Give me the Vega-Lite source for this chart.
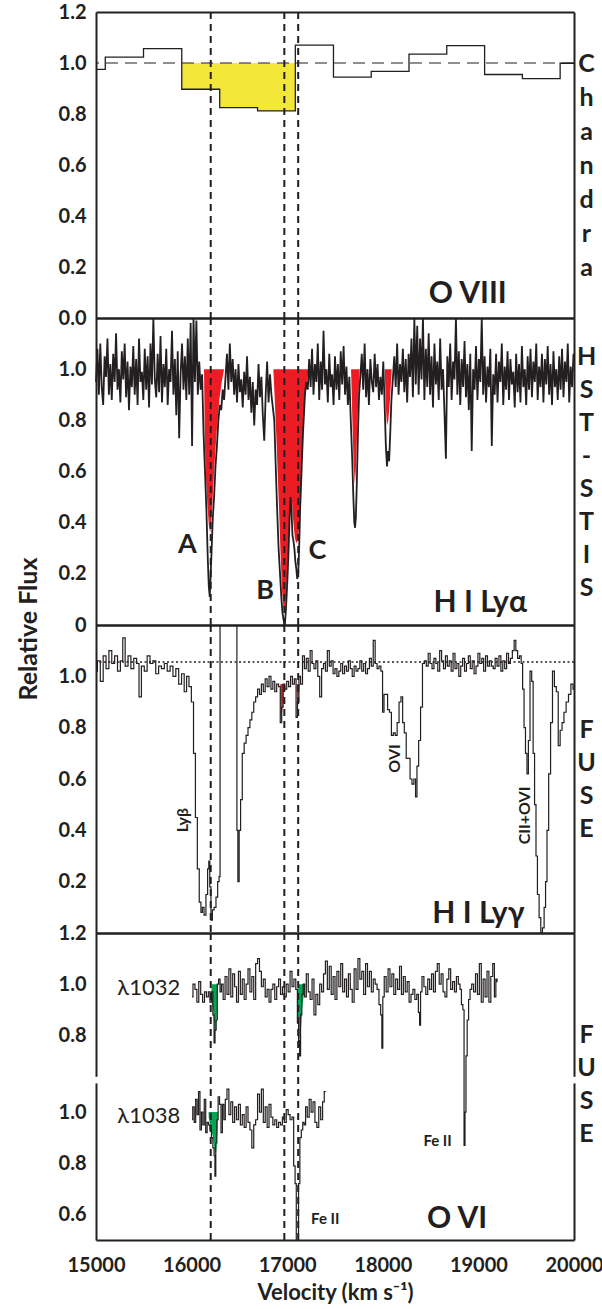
{
"$schema": "https://vega.github.io/schema/vega-lite/v6.json",
"background": "white",
"padding": {"left": 17, "top": 2, "right": 2, "bottom": 2},
"autosize": {"type": "pad"},
"spacing": 0,
"bounds": "flush",
"config": {
  "view": {"stroke": null},
  "font": "Lato",
  "axis": {"grid": false, "domainColor": "#231f20", "domainWidth": 2, "tickColor": "#231f20", "tickWidth": 1.5, "labelFont": "Lato", "labelFontWeight": "bold", "labelFontSize": 20, "labelColor": "#231f20", "titleFont": "Lato", "titleFontWeight": "bold", "titleColor": "#231f20", "labelFlush": false, "labelOverlap": false},
  "text": {"font": "Lato", "color": "#231f20"}
},
"datasets": {
  "vl": [{"v":16200},{"v":16970},{"v":17115}],
  "p1": [{"v":15000,"f":0.975},{"v":15097,"f":1.023},{"v":15497,"f":1.056},{"v":15897,"f":0.897},{"v":16294,"f":0.825},{"v":16690,"f":0.812},{"v":17085,"f":1.07},{"v":17484,"f":0.945},{"v":17879,"f":0.967},{"v":18274,"f":1.035},{"v":18669,"f":1.068},{"v":19065,"f":0.955},{"v":19460,"f":0.939},{"v":19855,"f":0.999},{"v":20000,"f":0.999}],
  "p1fill": [{"v":15897,"f":0.897},{"v":16294,"f":0.825},{"v":16690,"f":0.812},{"v":17085,"f":0.812}],
  "t1": [{"v":18889,"f":0.06,"t":"O VIII"}],
  "p2": [{"v":15000,"f":0.95},{"v":15015,"f":1.08},{"v":15030,"f":0.9},{"v":15045,"f":1.1},{"v":15060,"f":0.93},{"v":15075,"f":0.86},{"v":15090,"f":1.05},{"v":15105,"f":0.97},{"v":15120,"f":1.12},{"v":15135,"f":0.9},{"v":15150,"f":1.02},{"v":15165,"f":0.88},{"v":15180,"f":1.06},{"v":15195,"f":0.95},{"v":15210,"f":1.14},{"v":15225,"f":0.92},{"v":15240,"f":1.0},{"v":15255,"f":0.87},{"v":15270,"f":1.07},{"v":15285,"f":0.96},{"v":15300,"f":1.1},{"v":15315,"f":0.89},{"v":15330,"f":1.03},{"v":15345,"f":0.84},{"v":15360,"f":1.01},{"v":15375,"f":0.93},{"v":15390,"f":1.09},{"v":15405,"f":0.9},{"v":15420,"f":1.04},{"v":15435,"f":0.86},{"v":15450,"f":1.12},{"v":15465,"f":0.95},{"v":15480,"f":0.99},{"v":15495,"f":0.88},{"v":15510,"f":1.08},{"v":15525,"f":0.92},{"v":15540,"f":1.05},{"v":15555,"f":0.85},{"v":15570,"f":1.1},{"v":15585,"f":0.94},{"v":15600,"f":1.2},{"v":15615,"f":0.96},{"v":15630,"f":0.89},{"v":15645,"f":1.06},{"v":15660,"f":0.91},{"v":15675,"f":1.13},{"v":15690,"f":0.87},{"v":15705,"f":1.02},{"v":15720,"f":0.93},{"v":15735,"f":1.08},{"v":15750,"f":0.86},{"v":15765,"f":1.0},{"v":15780,"f":0.95},{"v":15795,"f":1.15},{"v":15810,"f":0.9},{"v":15825,"f":1.04},{"v":15840,"f":0.82},{"v":15855,"f":1.07},{"v":15870,"f":0.73},{"v":15885,"f":0.98},{"v":15900,"f":1.1},{"v":15915,"f":0.92},{"v":15930,"f":1.05},{"v":15945,"f":0.88},{"v":15960,"f":1.12},{"v":15975,"f":0.9},{"v":15990,"f":1.18},{"v":16005,"f":0.7},{"v":16020,"f":1.2},{"v":16035,"f":0.95},{"v":16050,"f":1.19},{"v":16065,"f":0.9},{"v":16080,"f":1.03},{"v":16095,"f":0.92},{"v":16110,"f":0.98},{"v":16125,"f":0.75},{"v":16140,"f":0.6},{"v":16155,"f":0.45},{"v":16170,"f":0.25},{"v":16180,"f":0.15},{"v":16190,"f":0.11},{"v":16200,"f":0.2},{"v":16210,"f":0.3},{"v":16222,"f":0.42},{"v":16235,"f":0.5},{"v":16250,"f":0.62},{"v":16265,"f":0.7},{"v":16280,"f":0.8},{"v":16295,"f":0.86},{"v":16310,"f":0.84},{"v":16325,"f":0.92},{"v":16340,"f":0.88},{"v":16355,"f":0.97},{"v":16370,"f":1.06},{"v":16385,"f":0.92},{"v":16400,"f":1.1},{"v":16415,"f":0.95},{"v":16430,"f":1.04},{"v":16445,"f":0.9},{"v":16460,"f":1.0},{"v":16475,"f":0.87},{"v":16490,"f":1.02},{"v":16505,"f":0.91},{"v":16520,"f":0.96},{"v":16535,"f":0.85},{"v":16550,"f":0.99},{"v":16565,"f":0.9},{"v":16580,"f":1.05},{"v":16595,"f":0.88},{"v":16610,"f":0.97},{"v":16625,"f":0.83},{"v":16640,"f":0.95},{"v":16655,"f":0.78},{"v":16670,"f":0.92},{"v":16685,"f":0.86},{"v":16700,"f":1.02},{"v":16715,"f":0.89},{"v":16730,"f":0.97},{"v":16745,"f":0.82},{"v":16760,"f":0.72},{"v":16775,"f":0.9},{"v":16790,"f":1.03},{"v":16805,"f":0.87},{"v":16820,"f":0.98},{"v":16835,"f":0.9},{"v":16850,"f":0.85},{"v":16865,"f":0.8},{"v":16880,"f":0.62},{"v":16895,"f":0.45},{"v":16910,"f":0.3},{"v":16925,"f":0.2},{"v":16940,"f":0.1},{"v":16950,"f":0.05},{"v":16962,"f":0.02},{"v":16975,"f":0.0},{"v":16985,"f":0.05},{"v":16995,"f":0.12},{"v":17005,"f":0.2},{"v":17015,"f":0.3},{"v":17025,"f":0.42},{"v":17035,"f":0.5},{"v":17045,"f":0.45},{"v":17055,"f":0.35},{"v":17065,"f":0.33},{"v":17075,"f":0.3},{"v":17085,"f":0.25},{"v":17095,"f":0.22},{"v":17105,"f":0.18},{"v":17115,"f":0.2},{"v":17125,"f":0.3},{"v":17135,"f":0.45},{"v":17145,"f":0.55},{"v":17155,"f":0.65},{"v":17165,"f":0.75},{"v":17175,"f":0.82},{"v":17185,"f":0.9},{"v":17200,"f":0.95},{"v":17215,"f":0.92},{"v":17230,"f":1.04},{"v":17245,"f":0.93},{"v":17260,"f":1.08},{"v":17275,"f":0.9},{"v":17290,"f":1.02},{"v":17305,"f":0.95},{"v":17320,"f":1.1},{"v":17335,"f":0.88},{"v":17350,"f":1.03},{"v":17365,"f":0.92},{"v":17380,"f":1.15},{"v":17395,"f":0.94},{"v":17410,"f":1.0},{"v":17425,"f":0.87},{"v":17440,"f":1.06},{"v":17455,"f":0.93},{"v":17470,"f":0.98},{"v":17485,"f":0.86},{"v":17500,"f":1.05},{"v":17515,"f":0.92},{"v":17530,"f":1.02},{"v":17545,"f":0.88},{"v":17560,"f":1.07},{"v":17575,"f":0.94},{"v":17590,"f":1.09},{"v":17605,"f":0.9},{"v":17620,"f":1.01},{"v":17635,"f":0.86},{"v":17650,"f":0.97},{"v":17665,"f":0.8},{"v":17680,"f":0.65},{"v":17692,"f":0.5},{"v":17702,"f":0.4},{"v":17710,"f":0.38},{"v":17718,"f":0.42},{"v":17728,"f":0.55},{"v":17740,"f":0.75},{"v":17752,"f":0.9},{"v":17765,"f":0.97},{"v":17780,"f":1.06},{"v":17795,"f":0.92},{"v":17810,"f":1.1},{"v":17825,"f":0.89},{"v":17840,"f":1.0},{"v":17855,"f":0.86},{"v":17870,"f":1.04},{"v":17885,"f":0.95},{"v":17900,"f":0.91},{"v":17915,"f":1.06},{"v":17930,"f":0.93},{"v":17945,"f":1.02},{"v":17960,"f":0.88},{"v":17975,"f":0.97},{"v":17990,"f":0.9},{"v":18005,"f":1.03},{"v":18020,"f":0.85},{"v":18032,"f":0.7},{"v":18044,"f":0.62},{"v":18055,"f":0.68},{"v":18066,"f":0.64},{"v":18078,"f":0.75},{"v":18090,"f":0.88},{"v":18105,"f":0.96},{"v":18120,"f":1.05},{"v":18135,"f":0.93},{"v":18150,"f":1.1},{"v":18165,"f":0.9},{"v":18180,"f":1.02},{"v":18195,"f":0.95},{"v":18210,"f":1.08},{"v":18225,"f":0.91},{"v":18240,"f":1.04},{"v":18255,"f":0.87},{"v":18270,"f":1.06},{"v":18285,"f":0.97},{"v":18300,"f":1.12},{"v":18315,"f":0.89},{"v":18330,"f":1.2},{"v":18345,"f":0.94},{"v":18360,"f":1.17},{"v":18375,"f":0.9},{"v":18390,"f":1.12},{"v":18405,"f":0.96},{"v":18420,"f":1.2},{"v":18435,"f":0.88},{"v":18450,"f":1.08},{"v":18465,"f":0.93},{"v":18480,"f":1.14},{"v":18495,"f":0.9},{"v":18510,"f":1.05},{"v":18525,"f":0.85},{"v":18540,"f":1.1},{"v":18555,"f":0.94},{"v":18570,"f":1.03},{"v":18585,"f":0.88},{"v":18600,"f":1.12},{"v":18615,"f":0.92},{"v":18630,"f":1.0},{"v":18645,"f":0.83},{"v":18660,"f":0.65},{"v":18675,"f":1.05},{"v":18690,"f":0.93},{"v":18705,"f":1.1},{"v":18720,"f":0.88},{"v":18735,"f":1.03},{"v":18750,"f":0.96},{"v":18765,"f":1.2},{"v":18780,"f":0.9},{"v":18795,"f":1.07},{"v":18810,"f":0.86},{"v":18825,"f":1.04},{"v":18840,"f":0.93},{"v":18855,"f":1.11},{"v":18870,"f":0.89},{"v":18885,"f":1.02},{"v":18900,"f":0.84},{"v":18915,"f":1.06},{"v":18930,"f":0.68},{"v":18945,"f":1.0},{"v":18960,"f":0.92},{"v":18975,"f":1.09},{"v":18990,"f":0.88},{"v":19005,"f":1.04},{"v":19020,"f":0.95},{"v":19035,"f":1.2},{"v":19050,"f":0.9},{"v":19065,"f":1.05},{"v":19080,"f":0.87},{"v":19095,"f":1.01},{"v":19110,"f":0.93},{"v":19125,"f":1.08},{"v":19140,"f":0.7},{"v":19155,"f":0.98},{"v":19170,"f":0.9},{"v":19185,"f":1.06},{"v":19200,"f":0.87},{"v":19215,"f":1.03},{"v":19230,"f":0.95},{"v":19245,"f":1.1},{"v":19260,"f":0.86},{"v":19275,"f":1.01},{"v":19290,"f":0.92},{"v":19305,"f":1.07},{"v":19320,"f":0.88},{"v":19335,"f":1.04},{"v":19350,"f":0.94},{"v":19365,"f":0.99},{"v":19380,"f":0.85},{"v":19395,"f":1.06},{"v":19410,"f":0.91},{"v":19425,"f":1.02},{"v":19440,"f":0.87},{"v":19455,"f":1.09},{"v":19470,"f":0.93},{"v":19485,"f":1.0},{"v":19500,"f":0.86},{"v":19515,"f":1.05},{"v":19530,"f":0.92},{"v":19545,"f":1.08},{"v":19560,"f":0.89},{"v":19575,"f":1.03},{"v":19590,"f":0.95},{"v":19605,"f":1.1},{"v":19620,"f":0.88},{"v":19635,"f":1.01},{"v":19650,"f":0.93},{"v":19665,"f":1.06},{"v":19680,"f":0.87},{"v":19695,"f":1.04},{"v":19710,"f":0.94},{"v":19725,"f":1.09},{"v":19740,"f":0.9},{"v":19755,"f":1.02},{"v":19770,"f":0.86},{"v":19785,"f":1.07},{"v":19800,"f":0.93},{"v":19815,"f":1.0},{"v":19830,"f":0.88},{"v":19845,"f":1.05},{"v":19860,"f":0.92},{"v":19875,"f":1.08},{"v":19890,"f":0.89},{"v":19905,"f":1.03},{"v":19920,"f":0.95},{"v":19935,"f":1.1},{"v":19950,"f":0.87},{"v":19965,"f":1.01},{"v":19980,"f":0.93},{"v":19995,"f":1.06}],
  "fit2": [{"c":"a","v":16130,"f":1.0},{"c":"a","v":16138,"f":0.72},{"c":"a","v":16150,"f":0.58},{"c":"a","v":16165,"f":0.47},{"c":"a","v":16180,"f":0.39},{"c":"a","v":16195,"f":0.36},{"c":"a","v":16210,"f":0.42},{"c":"a","v":16225,"f":0.53},{"c":"a","v":16245,"f":0.66},{"c":"a","v":16265,"f":0.77},{"c":"a","v":16290,"f":0.88},{"c":"a","v":16315,"f":0.95},{"c":"a","v":16340,"f":1.0},
    {"c":"b","v":16855,"f":1.0},{"c":"b","v":16870,"f":0.88},{"c":"b","v":16885,"f":0.75},{"c":"b","v":16900,"f":0.6},{"c":"b","v":16915,"f":0.45},{"c":"b","v":16930,"f":0.28},{"c":"b","v":16945,"f":0.14},{"c":"b","v":16960,"f":0.07},{"c":"b","v":16975,"f":0.06},{"c":"b","v":16990,"f":0.12},{"c":"b","v":17005,"f":0.25},{"c":"b","v":17020,"f":0.38},{"c":"b","v":17035,"f":0.47},{"c":"b","v":17050,"f":0.48},{"c":"b","v":17065,"f":0.4},{"c":"b","v":17080,"f":0.34},{"c":"b","v":17095,"f":0.32},{"c":"b","v":17110,"f":0.33},{"c":"b","v":17125,"f":0.38},{"c":"b","v":17140,"f":0.5},{"c":"b","v":17160,"f":0.68},{"c":"b","v":17180,"f":0.84},{"c":"b","v":17200,"f":0.94},{"c":"b","v":17226,"f":1.0},
    {"c":"c","v":17668,"f":1.0},{"c":"c","v":17682,"f":0.8},{"c":"c","v":17695,"f":0.62},{"c":"c","v":17708,"f":0.55},{"c":"c","v":17720,"f":0.62},{"c":"c","v":17735,"f":0.8},{"c":"c","v":17758,"f":1.0},
    {"c":"d","v":18020,"f":1.0},{"c":"d","v":18032,"f":0.85},{"c":"d","v":18044,"f":0.78},{"c":"d","v":18058,"f":0.8},{"c":"d","v":18075,"f":0.88},{"c":"d","v":18093,"f":1.0}],
  "t2abc": [{"v":15955,"f":0.283,"t":"A"},{"v":16770,"f":0.1,"t":"B"},{"v":17316,"f":0.257,"t":"C"}],
  "t2": [{"v":19020,"f":0.05,"t":"H I Lyα"}],
  "p3": [{"v":15000,"f":1.02},{"v":15030,"f":1.06},{"v":15060,"f":0.98},{"v":15090,"f":1.08},{"v":15120,"f":1.03},{"v":15150,"f":1.1},{"v":15180,"f":1.05},{"v":15210,"f":1.08},{"v":15240,"f":1.02},{"v":15270,"f":1.06},{"v":15290,"f":1.15},{"v":15320,"f":1.04},{"v":15350,"f":1.08},{"v":15380,"f":1.03},{"v":15410,"f":1.07},{"v":15440,"f":1.05},{"v":15460,"f":0.92},{"v":15490,"f":1.04},{"v":15520,"f":1.02},{"v":15550,"f":1.08},{"v":15580,"f":1.05},{"v":15610,"f":1.06},{"v":15640,"f":1.01},{"v":15670,"f":1.04},{"v":15700,"f":1.03},{"v":15730,"f":1.05},{"v":15760,"f":1.02},{"v":15790,"f":1.04},{"v":15820,"f":1.0},{"v":15850,"f":1.03},{"v":15880,"f":0.97},{"v":15910,"f":1.01},{"v":15935,"f":0.94},{"v":15960,"f":1.0},{"v":15985,"f":0.96},{"v":16010,"f":0.9},{"v":16030,"f":0.7},{"v":16050,"f":0.45},{"v":16070,"f":0.25},{"v":16090,"f":0.12},{"v":16105,"f":0.08},{"v":16120,"f":0.1},{"v":16140,"f":0.07},{"v":16160,"f":0.15},{"v":16175,"f":0.25},{"v":16185,"f":0.28},{"v":16195,"f":0.18},{"v":16210,"f":0.05},{"v":16225,"f":0.09},{"v":16245,"f":0.1},{"v":16265,"f":0.14},{"v":16280,"f":0.2},{"v":16295,"f":0.22},{"v":16300,"f":1.5},{"v":16470,"f":1.5},{"v":16478,"f":0.4},{"v":16490,"f":0.2},{"v":16505,"f":0.4},{"v":16520,"f":0.52},{"v":16540,"f":0.7},{"v":16560,"f":0.74},{"v":16580,"f":0.77},{"v":16600,"f":0.8},{"v":16620,"f":0.83},{"v":16640,"f":0.86},{"v":16660,"f":0.9},{"v":16680,"f":0.92},{"v":16700,"f":0.95},{"v":16720,"f":0.93},{"v":16740,"f":0.97},{"v":16760,"f":0.94},{"v":16780,"f":0.99},{"v":16800,"f":0.96},{"v":16820,"f":1.0},{"v":16840,"f":0.95},{"v":16860,"f":0.98},{"v":16880,"f":0.94},{"v":16900,"f":0.97},{"v":16920,"f":0.96},{"v":16935,"f":0.82},{"v":16950,"f":0.88},{"v":16965,"f":0.97},{"v":16985,"f":0.95},{"v":17005,"f":0.98},{"v":17025,"f":0.96},{"v":17045,"f":1.0},{"v":17065,"f":0.97},{"v":17085,"f":0.99},{"v":17100,"f":0.84},{"v":17115,"f":0.9},{"v":17130,"f":1.0},{"v":17150,"f":0.97},{"v":17170,"f":1.08},{"v":17190,"f":1.03},{"v":17210,"f":1.07},{"v":17230,"f":1.02},{"v":17250,"f":1.1},{"v":17270,"f":1.05},{"v":17290,"f":1.03},{"v":17310,"f":1.06},{"v":17330,"f":1.0},{"v":17350,"f":0.92},{"v":17370,"f":1.03},{"v":17390,"f":1.05},{"v":17410,"f":1.02},{"v":17430,"f":1.1},{"v":17450,"f":1.04},{"v":17470,"f":1.06},{"v":17490,"f":1.01},{"v":17510,"f":1.03},{"v":17530,"f":1.0},{"v":17550,"f":1.02},{"v":17570,"f":1.05},{"v":17590,"f":1.01},{"v":17610,"f":1.04},{"v":17630,"f":1.02},{"v":17650,"f":1.06},{"v":17670,"f":1.03},{"v":17690,"f":1.0},{"v":17710,"f":1.04},{"v":17730,"f":1.02},{"v":17750,"f":1.03},{"v":17770,"f":1.06},{"v":17790,"f":1.02},{"v":17810,"f":1.05},{"v":17830,"f":1.01},{"v":17850,"f":1.03},{"v":17870,"f":1.07},{"v":17890,"f":1.04},{"v":17910,"f":1.14},{"v":17930,"f":1.05},{"v":17950,"f":1.03},{"v":17970,"f":1.04},{"v":17990,"f":1.02},{"v":18005,"f":0.86},{"v":18020,"f":0.93},{"v":18040,"f":0.93},{"v":18060,"f":0.87},{"v":18080,"f":0.86},{"v":18100,"f":0.77},{"v":18120,"f":0.78},{"v":18140,"f":0.77},{"v":18160,"f":0.82},{"v":18180,"f":0.9},{"v":18200,"f":0.92},{"v":18215,"f":0.82},{"v":18235,"f":0.78},{"v":18255,"f":0.68},{"v":18275,"f":0.68},{"v":18295,"f":0.6},{"v":18315,"f":0.58},{"v":18335,"f":0.6},{"v":18350,"f":0.53},{"v":18365,"f":0.65},{"v":18385,"f":0.75},{"v":18405,"f":0.88},{"v":18425,"f":1.05},{"v":18445,"f":1.06},{"v":18465,"f":1.04},{"v":18485,"f":1.09},{"v":18505,"f":1.05},{"v":18525,"f":1.03},{"v":18545,"f":1.07},{"v":18565,"f":1.05},{"v":18585,"f":1.02},{"v":18605,"f":1.1},{"v":18625,"f":1.06},{"v":18645,"f":1.03},{"v":18665,"f":1.08},{"v":18685,"f":1.04},{"v":18705,"f":1.06},{"v":18725,"f":1.02},{"v":18745,"f":1.09},{"v":18765,"f":1.03},{"v":18785,"f":1.05},{"v":18805,"f":1.0},{"v":18825,"f":1.04},{"v":18845,"f":1.07},{"v":18865,"f":1.02},{"v":18885,"f":1.05},{"v":18905,"f":1.08},{"v":18925,"f":1.03},{"v":18945,"f":1.06},{"v":18965,"f":1.01},{"v":18985,"f":1.04},{"v":19005,"f":1.09},{"v":19025,"f":1.05},{"v":19045,"f":1.07},{"v":19065,"f":1.02},{"v":19085,"f":1.08},{"v":19105,"f":1.04},{"v":19125,"f":1.06},{"v":19145,"f":1.04},{"v":19165,"f":1.03},{"v":19185,"f":1.07},{"v":19205,"f":1.04},{"v":19225,"f":1.08},{"v":19245,"f":1.02},{"v":19265,"f":1.06},{"v":19285,"f":1.03},{"v":19305,"f":1.09},{"v":19325,"f":1.05},{"v":19345,"f":1.07},{"v":19365,"f":1.1},{"v":19383,"f":1.14},{"v":19400,"f":1.1},{"v":19420,"f":1.07},{"v":19440,"f":1.08},{"v":19455,"f":1.05},{"v":19470,"f":0.95},{"v":19485,"f":0.8},{"v":19500,"f":0.7},{"v":19516,"f":0.62},{"v":19530,"f":0.75},{"v":19550,"f":1.02},{"v":19565,"f":0.98},{"v":19580,"f":0.7},{"v":19595,"f":0.5},{"v":19610,"f":0.3},{"v":19625,"f":0.15},{"v":19645,"f":0.06},{"v":19660,"f":0.0},{"v":19680,"f":0.02},{"v":19695,"f":0.1},{"v":19710,"f":0.2},{"v":19725,"f":0.4},{"v":19745,"f":0.62},{"v":19765,"f":0.82},{"v":19785,"f":1.02},{"v":19805,"f":0.96},{"v":19825,"f":0.94},{"v":19845,"f":0.73},{"v":19865,"f":0.79},{"v":19885,"f":0.82},{"v":19905,"f":0.86},{"v":19930,"f":0.9},{"v":19955,"f":0.93},{"v":19980,"f":0.97},{"v":20000,"f":0.95}],
  "fit3": [{"c":"a","v":16928,"f":0.96},{"c":"a","v":16935,"f":0.83},{"c":"a","v":16950,"f":0.87},{"c":"a","v":16964,"f":0.96},{"c":"b","v":17097,"f":0.97},{"c":"b","v":17103,"f":0.86},{"c":"b","v":17115,"f":0.89},{"c":"b","v":17129,"f":0.97}],
  "t3rot": [{"v":15905,"f":0.44,"t":"Lyβ"},{"v":18130,"f":0.68,"t":"OVI"},{"v":19484,"f":0.458,"t":"CII+OVI"}],
  "t3": [{"v":19000,"f":0.04,"t":"H I Lyγ"}],
  "p4a": [{"v":16004,"f":0.95},{"v":16025,"f":1.0},{"v":16045,"f":0.98},{"v":16065,"f":0.93},{"v":16085,"f":1.01},{"v":16105,"f":0.96},{"v":16125,"f":0.93},{"v":16145,"f":0.97},{"v":16165,"f":0.95},{"v":16185,"f":0.97},{"v":16200,"f":0.93},{"v":16215,"f":0.97},{"v":16230,"f":0.88},{"v":16240,"f":0.77},{"v":16250,"f":0.82},{"v":16262,"f":0.86},{"v":16275,"f":1.0},{"v":16290,"f":1.02},{"v":16305,"f":0.97},{"v":16320,"f":1.0},{"v":16340,"f":0.94},{"v":16360,"f":1.03},{"v":16380,"f":0.96},{"v":16400,"f":1.06},{"v":16420,"f":0.95},{"v":16440,"f":1.04},{"v":16460,"f":0.99},{"v":16480,"f":0.93},{"v":16500,"f":1.05},{"v":16520,"f":0.96},{"v":16540,"f":1.02},{"v":16560,"f":0.94},{"v":16580,"f":1.0},{"v":16600,"f":1.06},{"v":16620,"f":0.97},{"v":16640,"f":1.03},{"v":16660,"f":0.94},{"v":16680,"f":1.08},{"v":16700,"f":1.1},{"v":16720,"f":1.05},{"v":16740,"f":0.99},{"v":16760,"f":1.02},{"v":16780,"f":0.95},{"v":16800,"f":0.98},{"v":16820,"f":0.93},{"v":16840,"f":0.98},{"v":16860,"f":1.0},{"v":16880,"f":0.94},{"v":16900,"f":0.99},{"v":16920,"f":1.02},{"v":16940,"f":0.96},{"v":16960,"f":0.99},{"v":16980,"f":0.95},{"v":17000,"f":1.0},{"v":17020,"f":0.97},{"v":17040,"f":1.05},{"v":17060,"f":0.99},{"v":17080,"f":1.02},{"v":17100,"f":0.98},{"v":17113,"f":0.85},{"v":17125,"f":0.78},{"v":17135,"f":0.72},{"v":17145,"f":0.88},{"v":17160,"f":0.96},{"v":17175,"f":1.0},{"v":17190,"f":0.95},{"v":17210,"f":1.04},{"v":17230,"f":0.97},{"v":17250,"f":0.94},{"v":17270,"f":1.02},{"v":17290,"f":0.88},{"v":17310,"f":0.96},{"v":17330,"f":0.92},{"v":17350,"f":1.0},{"v":17370,"f":0.97},{"v":17390,"f":1.04},{"v":17410,"f":1.09},{"v":17430,"f":0.98},{"v":17450,"f":1.07},{"v":17470,"f":0.96},{"v":17490,"f":1.03},{"v":17510,"f":0.94},{"v":17530,"f":1.05},{"v":17550,"f":0.99},{"v":17570,"f":1.08},{"v":17590,"f":0.97},{"v":17610,"f":1.02},{"v":17630,"f":0.95},{"v":17650,"f":1.04},{"v":17670,"f":0.98},{"v":17690,"f":0.93},{"v":17710,"f":1.06},{"v":17730,"f":0.98},{"v":17750,"f":1.1},{"v":17770,"f":1.02},{"v":17790,"f":1.05},{"v":17810,"f":0.96},{"v":17830,"f":1.08},{"v":17850,"f":0.99},{"v":17870,"f":1.05},{"v":17890,"f":0.97},{"v":17910,"f":1.02},{"v":17930,"f":1.0},{"v":17950,"f":0.98},{"v":17970,"f":0.92},{"v":17985,"f":0.88},{"v":17995,"f":0.75},{"v":18005,"f":0.95},{"v":18025,"f":1.03},{"v":18045,"f":0.97},{"v":18065,"f":1.06},{"v":18085,"f":0.99},{"v":18105,"f":1.04},{"v":18125,"f":0.96},{"v":18145,"f":1.02},{"v":18165,"f":0.98},{"v":18185,"f":1.07},{"v":18205,"f":0.96},{"v":18225,"f":1.03},{"v":18245,"f":0.97},{"v":18265,"f":1.01},{"v":18285,"f":0.93},{"v":18305,"f":0.96},{"v":18325,"f":0.98},{"v":18345,"f":0.94},{"v":18365,"f":0.96},{"v":18380,"f":0.89},{"v":18390,"f":0.84},{"v":18400,"f":0.97},{"v":18420,"f":1.03},{"v":18440,"f":0.99},{"v":18460,"f":0.96},{"v":18480,"f":1.02},{"v":18500,"f":0.98},{"v":18520,"f":1.04},{"v":18540,"f":0.97},{"v":18560,"f":1.05},{"v":18580,"f":1.08},{"v":18600,"f":1.0},{"v":18620,"f":1.04},{"v":18640,"f":0.97},{"v":18660,"f":0.95},{"v":18680,"f":1.02},{"v":18700,"f":1.06},{"v":18720,"f":0.98},{"v":18740,"f":1.01},{"v":18760,"f":0.97},{"v":18780,"f":1.03},{"v":18800,"f":1.0},{"v":18815,"f":0.98},{"v":18830,"f":0.92},{"v":18845,"f":0.9},{"v":18855,"f":0.37},{"v":18865,"f":0.5},{"v":18875,"f":0.72},{"v":18890,"f":0.86},{"v":18905,"f":0.94},{"v":18920,"f":0.98},{"v":18940,"f":1.0},{"v":18960,"f":0.97},{"v":18980,"f":1.04},{"v":19000,"f":0.96},{"v":19020,"f":1.08},{"v":19040,"f":0.93},{"v":19060,"f":1.02},{"v":19080,"f":0.95},{"v":19100,"f":1.05},{"v":19120,"f":0.93},{"v":19140,"f":1.03},{"v":19160,"f":1.08},{"v":19175,"f":0.95},{"v":19190,"f":1.02},{"v":19200,"f":1.01}],
  "p4b": [{"v":16004,"f":0.97},{"v":16020,"f":1.02},{"v":16035,"f":0.96},{"v":16050,"f":1.05},{"v":16065,"f":0.99},{"v":16080,"f":1.08},{"v":16095,"f":0.93},{"v":16110,"f":1.0},{"v":16125,"f":0.95},{"v":16140,"f":1.05},{"v":16155,"f":0.92},{"v":16170,"f":0.96},{"v":16185,"f":0.95},{"v":16200,"f":0.93},{"v":16215,"f":0.9},{"v":16230,"f":0.86},{"v":16240,"f":0.83},{"v":16248,"f":0.75},{"v":16258,"f":0.88},{"v":16270,"f":0.97},{"v":16285,"f":1.06},{"v":16300,"f":1.03},{"v":16315,"f":0.92},{"v":16330,"f":1.03},{"v":16345,"f":0.97},{"v":16360,"f":1.05},{"v":16380,"f":1.09},{"v":16400,"f":0.99},{"v":16420,"f":1.04},{"v":16440,"f":0.96},{"v":16460,"f":1.02},{"v":16480,"f":0.97},{"v":16500,"f":1.03},{"v":16520,"f":0.95},{"v":16540,"f":0.99},{"v":16560,"f":0.94},{"v":16580,"f":1.02},{"v":16600,"f":0.96},{"v":16620,"f":0.93},{"v":16640,"f":0.86},{"v":16660,"f":0.95},{"v":16680,"f":0.97},{"v":16700,"f":1.07},{"v":16720,"f":1.0},{"v":16740,"f":1.09},{"v":16760,"f":0.96},{"v":16780,"f":1.02},{"v":16800,"f":0.94},{"v":16820,"f":1.03},{"v":16840,"f":0.98},{"v":16860,"f":0.95},{"v":16880,"f":0.97},{"v":16900,"f":0.94},{"v":16920,"f":0.96},{"v":16940,"f":0.95},{"v":16960,"f":0.98},{"v":16980,"f":0.96},{"v":17000,"f":1.01},{"v":17020,"f":0.99},{"v":17040,"f":0.97},{"v":17060,"f":0.98},{"v":17075,"f":0.79},{"v":17090,"f":0.72},{"v":17100,"f":0.4},{"v":17112,"f":0.45},{"v":17125,"f":0.72},{"v":17140,"f":0.9},{"v":17155,"f":0.93},{"v":17170,"f":0.96},{"v":17185,"f":0.95},{"v":17200,"f":1.02},{"v":17220,"f":0.98},{"v":17240,"f":1.05},{"v":17260,"f":1.0},{"v":17280,"f":1.04},{"v":17300,"f":0.96},{"v":17320,"f":0.94},{"v":17340,"f":1.02},{"v":17360,"f":0.97},{"v":17380,"f":1.04},{"v":17395,"f":1.08},{"v":17403,"f":1.08}],
  "g4a": [{"c":"a","v":16208,"f":0.93},{"c":"a","v":16225,"f":0.9},{"c":"a","v":16240,"f":0.82},{"c":"a","v":16258,"f":0.82},{"c":"a","v":16270,"f":0.95},{"c":"a","v":16278,"f":1.0},{"c":"b","v":17113,"f":0.85},{"c":"b","v":17125,"f":0.78},{"c":"b","v":17140,"f":0.8},{"c":"b","v":17160,"f":0.92},{"c":"b","v":17190,"f":1.0}],
  "g4b": [{"c":"a","v":16178,"f":0.98},{"c":"a","v":16200,"f":0.94},{"c":"a","v":16225,"f":0.9},{"c":"a","v":16245,"f":0.83},{"c":"a","v":16258,"f":0.85},{"c":"a","v":16270,"f":0.92},{"c":"a","v":16278,"f":1.0}],
  "gap": [{"v":15000},{"v":20000}],
  "t4a": [{"v":15552,"f":0.985,"t":"λ1032"}],
  "t4b": [{"v":15552,"f":0.985,"t":"λ1038"}],
  "t4fe": [{"v":18573,"f":0.886,"t":"Fe II"},{"v":17398,"f":0.583,"t":"Fe II"}],
  "t4o": [{"v":18778,"f":0.548,"t":"O VI"}]
},
"vconcat": [
 {
  "width": 478, "height": 306,
  "layer": [
   {"data": {"name": "p1fill"}, "mark": {"type": "area", "interpolate": "step-after", "color": "#f3e83a", "opacity": 1},
    "encoding": {
     "x": {"field": "v", "type": "quantitative", "scale": {"domain": [15000, 20000], "nice": false, "zero": false},
       "axis": {"orient": "bottom", "values": [15000,15100,15200,15300,15400,15500,15600,15700,15800,15900,16000,16100,16200,16300,16400,16500,16600,16700,16800,16900,17000,17100,17200,17300,17400,17500,17600,17700,17800,17900,18000,18100,18200,18300,18400,18500,18600,18700,18800,18900,19000,19100,19200,19300,19400,19500,19600,19700,19800,19900,20000], "labels": false, "tickSize": 0, "title": null, "encode": {"ticks": {"y2": {"value": {"expr": "datum.value % 1000 === 0 ? -9 : -4"}}}}}},
     "y": {"field": "f", "type": "quantitative", "scale": {"domain": [0, 1.2], "nice": false, "zero": false},
       "axis": {"orient": "left", "values": [0,0.05,0.1,0.15,0.2,0.25,0.3,0.35,0.4,0.45,0.5,0.55,0.6,0.65,0.7,0.75,0.8,0.85,0.9,0.95,1,1.05,1.1,1.15,1.2], "tickSize": 0, "labelPadding": 10, "labelExpr": "indexof([0,0.2,0.4,0.6,0.8,1,1.2], datum.value) >= 0 ? format(datum.value, '.1f') : ''", "title": null, "encode": {"ticks": {"x2": {"value": {"expr": "indexof([0,0.2,0.4,0.6,0.8,1,1.2], datum.value) >= 0 ? 9 : 4"}}}}}},
     "y2": {"datum": 1}
    }},
   {"data": {"name": "p1"}, "mark": {"type": "line", "interpolate": "step-after", "color": "#231f20", "strokeWidth": 1.3},
    "encoding": {
     "x": {"field": "v", "type": "quantitative", "scale": {"domain": [15000, 20000], "nice": false, "zero": false},
       "axis": {"orient": "top", "values": [15000,15100,15200,15300,15400,15500,15600,15700,15800,15900,16000,16100,16200,16300,16400,16500,16600,16700,16800,16900,17000,17100,17200,17300,17400,17500,17600,17700,17800,17900,18000,18100,18200,18300,18400,18500,18600,18700,18800,18900,19000,19100,19200,19300,19400,19500,19600,19700,19800,19900,20000], "labels": false, "tickSize": 0, "title": null, "encode": {"ticks": {"y2": {"value": {"expr": "datum.value % 1000 === 0 ? 9 : 4"}}}}}},
     "y": {"field": "f", "type": "quantitative", "scale": {"domain": [0, 1.2], "nice": false, "zero": false},
       "axis": {"orient": "right", "values": [0,0.05,0.1,0.15,0.2,0.25,0.3,0.35,0.4,0.45,0.5,0.55,0.6,0.65,0.7,0.75,0.8,0.85,0.9,0.95,1,1.05,1.1,1.15,1.2], "labels": false, "tickSize": 0, "title": ["C","h","a","n","d","r","a"], "titleAngle": 0, "titleAlign": "center", "titleBaseline": "middle", "titleX": 12, "titleY": 51, "titleFontSize": 25, "titleLineHeight": 34, "encode": {"ticks": {"x2": {"value": {"expr": "indexof([0,0.2,0.4,0.6,0.8,1,1.2], datum.value) >= 0 ? -9 : -4"}}}}}}
    }},
   {"data": {"values": [{}]}, "mark": {"type": "rule", "strokeDash": [12, 7], "strokeWidth": 1.2, "color": "#231f20"},
    "encoding": {"y": {"datum": 1, "type": "quantitative", "scale": {"domain": [0, 1.2], "nice": false, "zero": false}, "axis": null}}},
   {"data": {"name": "vl"}, "mark": {"type": "rule", "strokeDash": [7, 5], "strokeWidth": 2, "color": "#231f20"},
    "encoding": {"x": {"field": "v", "type": "quantitative", "scale": {"domain": [15000, 20000], "nice": false, "zero": false}, "axis": null}}},
   {"data": {"name": "t1"}, "mark": {"type": "text", "fontSize": 30, "fontWeight": "bold", "align": "center", "baseline": "alphabetic", "color": "#231f20"},
    "encoding": {"x": {"field": "v", "type": "quantitative", "scale": {"domain": [15000, 20000], "nice": false, "zero": false}, "axis": null}, "y": {"field": "f", "type": "quantitative", "scale": {"domain": [0, 1.2], "nice": false, "zero": false}, "axis": null}, "text": {"field": "t"}}}
  ],
  "resolve": {"axis": {"x": "independent", "y": "independent"}}
 },
 {
  "width": 478, "height": 307,
  "layer": [
   {"data": {"name": "fit2"}, "mark": {"type": "area", "color": "#ed1c24", "opacity": 1},
    "encoding": {
     "x": {"field": "v", "type": "quantitative", "scale": {"domain": [15000, 20000], "nice": false, "zero": false},
       "axis": {"orient": "bottom", "values": [15000,15100,15200,15300,15400,15500,15600,15700,15800,15900,16000,16100,16200,16300,16400,16500,16600,16700,16800,16900,17000,17100,17200,17300,17400,17500,17600,17700,17800,17900,18000,18100,18200,18300,18400,18500,18600,18700,18800,18900,19000,19100,19200,19300,19400,19500,19600,19700,19800,19900,20000], "labels": false, "tickSize": 0, "title": null, "encode": {"ticks": {"y2": {"value": {"expr": "datum.value % 1000 === 0 ? -9 : -4"}}}}}},
     "y": {"field": "f", "type": "quantitative", "scale": {"domain": [0, 1.2], "nice": false, "zero": false},
       "axis": {"orient": "left", "values": [0,0.05,0.1,0.15,0.2,0.25,0.3,0.35,0.4,0.45,0.5,0.55,0.6,0.65,0.7,0.75,0.8,0.85,0.9,0.95,1,1.05,1.1,1.15,1.2], "tickSize": 0, "labelPadding": 10, "labelExpr": "datum.value === 0 ? '0' : indexof([0.2,0.4,0.6,0.8,1], datum.value) >= 0 ? format(datum.value, '.1f') : ''", "title": null, "encode": {"ticks": {"x2": {"value": {"expr": "indexof([0,0.2,0.4,0.6,0.8,1,1.2], datum.value) >= 0 ? 9 : 4"}}}}}},
     "y2": {"datum": 1},
     "detail": {"field": "c"}
    }},
   {"data": {"name": "p2"}, "mark": {"type": "line", "color": "#231f20", "strokeWidth": 1.8},
    "encoding": {
     "x": {"field": "v", "type": "quantitative", "scale": {"domain": [15000, 20000], "nice": false, "zero": false},
       "axis": {"orient": "top", "values": [15000,15100,15200,15300,15400,15500,15600,15700,15800,15900,16000,16100,16200,16300,16400,16500,16600,16700,16800,16900,17000,17100,17200,17300,17400,17500,17600,17700,17800,17900,18000,18100,18200,18300,18400,18500,18600,18700,18800,18900,19000,19100,19200,19300,19400,19500,19600,19700,19800,19900,20000], "labels": false, "tickSize": 0, "title": null, "encode": {"ticks": {"y2": {"value": {"expr": "datum.value % 1000 === 0 ? 9 : 4"}}}}}},
     "y": {"field": "f", "type": "quantitative", "scale": {"domain": [0, 1.2], "nice": false, "zero": false},
       "axis": {"orient": "right", "values": [0,0.05,0.1,0.15,0.2,0.25,0.3,0.35,0.4,0.45,0.5,0.55,0.6,0.65,0.7,0.75,0.8,0.85,0.9,0.95,1,1.05,1.1,1.15,1.2], "labels": false, "tickSize": 0, "title": ["H","S","T","-","S","T","I","S"], "titleAngle": 0, "titleAlign": "center", "titleBaseline": "middle", "titleX": 12, "titleY": 38, "titleFontSize": 25, "titleLineHeight": 33, "encode": {"ticks": {"x2": {"value": {"expr": "indexof([0,0.2,0.4,0.6,0.8,1,1.2], datum.value) >= 0 ? -9 : -4"}}}}}}
    }},
   {"data": {"name": "vl"}, "mark": {"type": "rule", "strokeDash": [7, 5], "strokeWidth": 2, "color": "#231f20"},
    "encoding": {"x": {"field": "v", "type": "quantitative", "scale": {"domain": [15000, 20000], "nice": false, "zero": false}, "axis": null}}},
   {"data": {"name": "t2abc"}, "mark": {"type": "text", "fontSize": 27, "fontWeight": "bold", "align": "center", "baseline": "alphabetic", "color": "#231f20"},
    "encoding": {"x": {"field": "v", "type": "quantitative", "scale": {"domain": [15000, 20000], "nice": false, "zero": false}, "axis": null}, "y": {"field": "f", "type": "quantitative", "scale": {"domain": [0, 1.2], "nice": false, "zero": false}, "axis": null}, "text": {"field": "t"}}},
   {"data": {"name": "t2"}, "mark": {"type": "text", "fontSize": 30, "fontWeight": "bold", "align": "center", "baseline": "alphabetic", "color": "#231f20"},
    "encoding": {"x": {"field": "v", "type": "quantitative", "scale": {"domain": [15000, 20000], "nice": false, "zero": false}, "axis": null}, "y": {"field": "f", "type": "quantitative", "scale": {"domain": [0, 1.2], "nice": false, "zero": false}, "axis": null}, "text": {"field": "t"}}},
   {"data": {"values": [{}]}, "mark": {"type": "text", "text": "Relative Flux", "angle": 270, "fontSize": 25, "fontWeight": "bold", "align": "center", "baseline": "alphabetic", "dx": -4, "dy": -59, "color": "#231f20"},
    "encoding": {"x": {"datum": 15000, "type": "quantitative", "scale": {"domain": [15000, 20000], "nice": false, "zero": false}, "axis": null}, "y": {"datum": 0, "type": "quantitative", "scale": {"domain": [0, 1.2], "nice": false, "zero": false}, "axis": null}}}
  ],
  "resolve": {"axis": {"x": "independent", "y": "independent"}}
 },
 {
  "width": 478, "height": 308,
  "layer": [
   {"data": {"name": "fit3"}, "mark": {"type": "area", "color": "#ed1c24", "opacity": 1},
    "encoding": {
     "x": {"field": "v", "type": "quantitative", "scale": {"domain": [15000, 20000], "nice": false, "zero": false},
       "axis": {"orient": "bottom", "values": [15000,15100,15200,15300,15400,15500,15600,15700,15800,15900,16000,16100,16200,16300,16400,16500,16600,16700,16800,16900,17000,17100,17200,17300,17400,17500,17600,17700,17800,17900,18000,18100,18200,18300,18400,18500,18600,18700,18800,18900,19000,19100,19200,19300,19400,19500,19600,19700,19800,19900,20000], "labels": false, "tickSize": 0, "title": null, "encode": {"ticks": {"y2": {"value": {"expr": "datum.value % 1000 === 0 ? -9 : -4"}}}}}},
     "y": {"field": "f", "type": "quantitative", "scale": {"domain": [0, 1.2], "nice": false, "zero": false},
       "axis": {"orient": "left", "values": [0,0.05,0.1,0.15,0.2,0.25,0.3,0.35,0.4,0.45,0.5,0.55,0.6,0.65,0.7,0.75,0.8,0.85,0.9,0.95,1,1.05,1.1,1.15,1.2], "tickSize": 0, "labelPadding": 10, "labelExpr": "indexof([0.2,0.4,0.6,0.8,1], datum.value) >= 0 ? format(datum.value, '.1f') : ''", "title": null, "encode": {"ticks": {"x2": {"value": {"expr": "indexof([0,0.2,0.4,0.6,0.8,1,1.2], datum.value) >= 0 ? 9 : 4"}}}}}},
     "y2": {"datum": 0.97},
     "detail": {"field": "c"}
    }},
   {"data": {"name": "p3"}, "mark": {"type": "line", "interpolate": "step", "color": "#231f20", "strokeWidth": 1.2, "clip": true},
    "encoding": {
     "x": {"field": "v", "type": "quantitative", "scale": {"domain": [15000, 20000], "nice": false, "zero": false},
       "axis": {"orient": "top", "values": [15000,15100,15200,15300,15400,15500,15600,15700,15800,15900,16000,16100,16200,16300,16400,16500,16600,16700,16800,16900,17000,17100,17200,17300,17400,17500,17600,17700,17800,17900,18000,18100,18200,18300,18400,18500,18600,18700,18800,18900,19000,19100,19200,19300,19400,19500,19600,19700,19800,19900,20000], "labels": false, "tickSize": 0, "title": null, "encode": {"ticks": {"y2": {"value": {"expr": "datum.value % 1000 === 0 ? 9 : 4"}}}}}},
     "y": {"field": "f", "type": "quantitative", "scale": {"domain": [0, 1.2], "nice": false, "zero": false},
       "axis": {"orient": "right", "values": [0,0.05,0.1,0.15,0.2,0.25,0.3,0.35,0.4,0.45,0.5,0.55,0.6,0.65,0.7,0.75,0.8,0.85,0.9,0.95,1,1.05,1.1,1.15,1.2], "labels": false, "tickSize": 0, "title": ["F","U","S","E"], "titleAngle": 0, "titleAlign": "center", "titleBaseline": "middle", "titleX": 12, "titleY": 104, "titleFontSize": 25, "titleLineHeight": 33, "encode": {"ticks": {"x2": {"value": {"expr": "indexof([0,0.2,0.4,0.6,0.8,1,1.2], datum.value) >= 0 ? -9 : -4"}}}}}}
    }},
   {"data": {"values": [{}]}, "mark": {"type": "rule", "strokeDash": [2, 2.5], "strokeWidth": 1.6, "color": "#231f20"},
    "encoding": {"y": {"datum": 1.056, "type": "quantitative", "scale": {"domain": [0, 1.2], "nice": false, "zero": false}, "axis": null}}},
   {"data": {"name": "vl"}, "mark": {"type": "rule", "strokeDash": [7, 5], "strokeWidth": 2, "color": "#231f20"},
    "encoding": {"x": {"field": "v", "type": "quantitative", "scale": {"domain": [15000, 20000], "nice": false, "zero": false}, "axis": null}}},
   {"data": {"name": "t3rot"}, "mark": {"type": "text", "fontSize": 16, "fontWeight": "bold", "angle": 270, "align": "center", "baseline": "middle", "color": "#231f20"},
    "encoding": {"x": {"field": "v", "type": "quantitative", "scale": {"domain": [15000, 20000], "nice": false, "zero": false}, "axis": null}, "y": {"field": "f", "type": "quantitative", "scale": {"domain": [0, 1.2], "nice": false, "zero": false}, "axis": null}, "text": {"field": "t"}}},
   {"data": {"name": "t3"}, "mark": {"type": "text", "fontSize": 30, "fontWeight": "bold", "align": "center", "baseline": "alphabetic", "color": "#231f20"},
    "encoding": {"x": {"field": "v", "type": "quantitative", "scale": {"domain": [15000, 20000], "nice": false, "zero": false}, "axis": null}, "y": {"field": "f", "type": "quantitative", "scale": {"domain": [0, 1.2], "nice": false, "zero": false}, "axis": null}, "text": {"field": "t"}}}
  ],
  "resolve": {"axis": {"x": "independent", "y": "independent"}}
 },
 {
  "width": 478, "height": 307,
  "layer": [
   {"data": {"name": "g4a"}, "mark": {"type": "area", "color": "#00a651", "opacity": 1},
    "encoding": {
     "x": {"field": "v", "type": "quantitative", "scale": {"domain": [15000, 20000], "nice": false, "zero": false}, "axis": null},
     "y": {"field": "f", "type": "quantitative", "scale": {"domain": [0, 1.2], "nice": false, "zero": false},
       "axis": {"orient": "right", "values": [0.05,0.1,0.15,0.2,0.25,0.3,0.35,0.4,0.45,0.5,0.55,0.6,0.65,0.7,0.75,0.8,0.85,0.9,0.95,1,1.05,1.1,1.15,1.2], "labels": false, "tickSize": 0, "title": ["F","U","S","E"], "titleAngle": 0, "titleAlign": "center", "titleBaseline": "middle", "titleX": 12, "titleY": 101, "titleFontSize": 25, "titleLineHeight": 33, "encode": {"ticks": {"x2": {"value": {"expr": "indexof([0.1,0.3,0.5,0.8,1,1.2], datum.value) >= 0 ? -9 : -4"}}}}}},
     "y2": {"datum": 1},
     "detail": {"field": "c"}
    }},
   {"data": {"name": "g4b"}, "mark": {"type": "area", "color": "#00a651", "opacity": 1},
    "encoding": {
     "x": {"field": "v", "type": "quantitative", "scale": {"domain": [15000, 20000], "nice": false, "zero": false}, "axis": null},
     "y": {"field": "f", "type": "quantitative", "scale": {"domain": [0.5, 1.7], "nice": false, "zero": false}, "axis": null},
     "y2": {"datum": 1},
     "detail": {"field": "c"}
    }},
   {"data": {"name": "p4a"}, "mark": {"type": "line", "interpolate": "step", "color": "#231f20", "strokeWidth": 1.2, "clip": true},
    "encoding": {
     "x": {"field": "v", "type": "quantitative", "scale": {"domain": [15000, 20000], "nice": false, "zero": false},
       "axis": {"orient": "bottom", "values": [15000,15100,15200,15300,15400,15500,15600,15700,15800,15900,16000,16100,16200,16300,16400,16500,16600,16700,16800,16900,17000,17100,17200,17300,17400,17500,17600,17700,17800,17900,18000,18100,18200,18300,18400,18500,18600,18700,18800,18900,19000,19100,19200,19300,19400,19500,19600,19700,19800,19900,20000], "labels": true, "format": "d", "labelExpr": "datum.value % 1000 === 0 ? datum.label : ''", "labelPadding": 15, "tickSize": 0, "title": "Velocity (km s⁻¹)", "titleFontSize": 22, "titleY": 59, "titleBaseline": "alphabetic", "encode": {"ticks": {"y2": {"value": {"expr": "datum.value % 1000 === 0 ? -9 : -4"}}}}}},
     "y": {"field": "f", "type": "quantitative", "scale": {"domain": [0, 1.2], "nice": false, "zero": false},
       "axis": {"orient": "left", "values": [0.05,0.1,0.15,0.2,0.25,0.3,0.35,0.4,0.45,0.5,0.55,0.6,0.65,0.7,0.75,0.8,0.85,0.9,0.95,1,1.05,1.1,1.15,1.2], "tickSize": 0, "labelPadding": 10, "labelExpr": "datum.value === 1.2 ? '1.2' : datum.value === 1 ? '1.0' : datum.value === 0.8 ? '0.8' : datum.value === 0.5 ? '1.0' : datum.value === 0.3 ? '0.8' : datum.value === 0.1 ? '0.6' : ''", "title": null, "encode": {"ticks": {"x2": {"value": {"expr": "indexof([0.1,0.3,0.5,0.8,1,1.2], datum.value) >= 0 ? 9 : 4"}}}}}}
    }},
   {"data": {"name": "p4b"}, "mark": {"type": "line", "interpolate": "step", "color": "#231f20", "strokeWidth": 1.2, "clip": true},
    "encoding": {
     "x": {"field": "v", "type": "quantitative", "scale": {"domain": [15000, 20000], "nice": false, "zero": false},
       "axis": {"orient": "top", "values": [15000,15100,15200,15300,15400,15500,15600,15700,15800,15900,16000,16100,16200,16300,16400,16500,16600,16700,16800,16900,17000,17100,17200,17300,17400,17500,17600,17700,17800,17900,18000,18100,18200,18300,18400,18500,18600,18700,18800,18900,19000,19100,19200,19300,19400,19500,19600,19700,19800,19900,20000], "labels": false, "tickSize": 0, "title": null, "encode": {"ticks": {"y2": {"value": {"expr": "datum.value % 1000 === 0 ? 9 : 4"}}}}}},
     "y": {"field": "f", "type": "quantitative", "scale": {"domain": [0.5, 1.7], "nice": false, "zero": false}, "axis": null}
    }},
   {"data": {"name": "gap"}, "mark": {"type": "rule", "color": "white", "strokeWidth": 5},
    "encoding": {
     "x": {"field": "v", "type": "quantitative", "scale": {"domain": [15000, 20000], "nice": false, "zero": false}, "axis": null},
     "y": {"datum": 0.612, "type": "quantitative", "scale": {"domain": [0, 1.2], "nice": false, "zero": false}, "axis": null},
     "y2": {"datum": 0.638}
    }},
   {"data": {"name": "vl"}, "mark": {"type": "rule", "strokeDash": [7, 5], "strokeWidth": 2, "color": "#231f20"},
    "encoding": {"x": {"field": "v", "type": "quantitative", "scale": {"domain": [15000, 20000], "nice": false, "zero": false}, "axis": null}}},
   {"data": {"name": "t4a"}, "mark": {"type": "text", "fontSize": 22, "align": "center", "baseline": "middle", "color": "#231f20"},
    "encoding": {"x": {"field": "v", "type": "quantitative", "scale": {"domain": [15000, 20000], "nice": false, "zero": false}, "axis": null}, "y": {"field": "f", "type": "quantitative", "scale": {"domain": [0, 1.2], "nice": false, "zero": false}, "axis": null}, "text": {"field": "t"}}},
   {"data": {"name": "t4b"}, "mark": {"type": "text", "fontSize": 22, "align": "center", "baseline": "middle", "color": "#231f20"},
    "encoding": {"x": {"field": "v", "type": "quantitative", "scale": {"domain": [15000, 20000], "nice": false, "zero": false}, "axis": null}, "y": {"field": "f", "type": "quantitative", "scale": {"domain": [0.5, 1.7], "nice": false, "zero": false}, "axis": null}, "text": {"field": "t"}}},
   {"data": {"name": "t4fe"}, "mark": {"type": "text", "fontSize": 15, "fontWeight": "bold", "align": "center", "baseline": "middle", "color": "#231f20"},
    "encoding": {"x": {"field": "v", "type": "quantitative", "scale": {"domain": [15000, 20000], "nice": false, "zero": false}, "axis": null}, "y": {"field": "f", "type": "quantitative", "scale": {"domain": [0.5, 1.7], "nice": false, "zero": false}, "axis": null}, "text": {"field": "t"}}},
   {"data": {"name": "t4o"}, "mark": {"type": "text", "fontSize": 30, "fontWeight": "bold", "align": "center", "baseline": "alphabetic", "color": "#231f20"},
    "encoding": {"x": {"field": "v", "type": "quantitative", "scale": {"domain": [15000, 20000], "nice": false, "zero": false}, "axis": null}, "y": {"field": "f", "type": "quantitative", "scale": {"domain": [0.5, 1.7], "nice": false, "zero": false}, "axis": null}, "text": {"field": "t"}}}
  ],
  "resolve": {"scale": {"y": "independent"}, "axis": {"x": "independent", "y": "independent"}}
 }
]
}
